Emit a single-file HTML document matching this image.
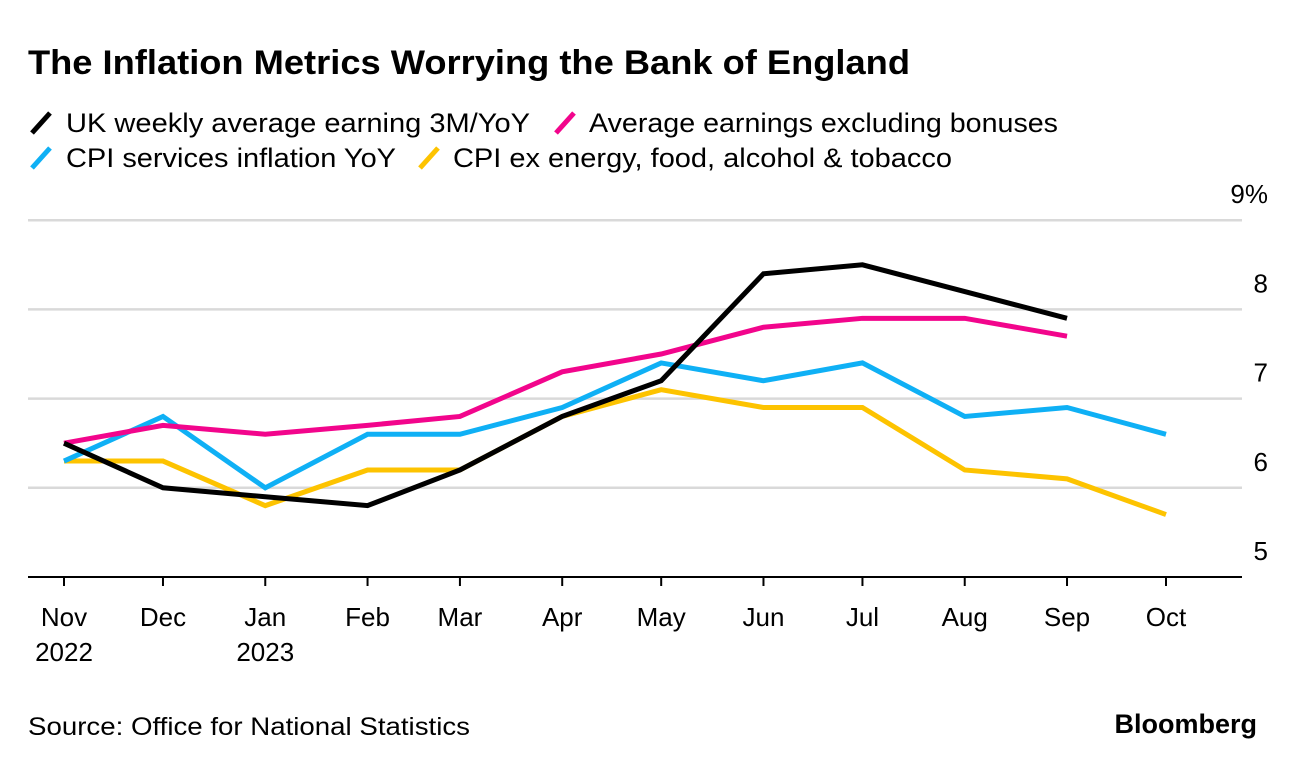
<!DOCTYPE html>
<html><head><meta charset="utf-8"><style>
body{margin:0;background:#fff;font-family:"Liberation Sans",sans-serif;}
svg text{font-family:"Liberation Sans",sans-serif;}
</style></head><body>
<svg id="chart" width="1296" height="768">
<text x="28" y="74" font-size="34" font-weight="bold" fill="#000" textLength="882" lengthAdjust="spacingAndGlyphs">The Inflation Metrics Worrying the Bank of England</text>
<g>
<g><line x1="32" y1="133" x2="50" y2="113" stroke="#000" stroke-width="5"/><text x="66" y="132" font-size="27" textLength="464" lengthAdjust="spacingAndGlyphs">UK weekly average earning 3M/YoY</text></g>
<g><line x1="556" y1="133" x2="574" y2="113" stroke="#f2058c" stroke-width="5"/><text x="589" y="132" font-size="27" textLength="469" lengthAdjust="spacingAndGlyphs">Average earnings excluding bonuses</text></g>
<g><line x1="32" y1="168" x2="50" y2="148" stroke="#0fb0f5" stroke-width="5"/><text x="66" y="167" font-size="27" textLength="330" lengthAdjust="spacingAndGlyphs">CPI services inflation YoY</text></g>
<g><line x1="420" y1="168" x2="438" y2="148" stroke="#fdc300" stroke-width="5"/><text x="453" y="167" font-size="27" textLength="499" lengthAdjust="spacingAndGlyphs">CPI ex energy, food, alcohol &amp; tobacco</text></g>
</g>
<g id="grid"></g><g id="series"></g><g id="axis"></g>
<text x="28" y="735" font-size="25" textLength="442" lengthAdjust="spacingAndGlyphs">Source: Office for National Statistics</text>
<text x="1257" y="733" font-size="27" font-weight="bold" text-anchor="end">Bloomberg</text>
</svg>
<script>
const months=["Nov","Dec","Jan","Feb","Mar","Apr","May","Jun","Jul","Aug","Sep","Oct"];
const years=["2022","","2023","","","","","","","","",""];
const dayOffsets=[0,30,61,92,120,151,181,212,242,273,304,334];
const ukEarnings=[6.5,6.0,5.9,5.8,6.2,6.8,7.2,8.4,8.5,8.2,7.9];
const earningsExBonus=[6.5,6.7,6.6,6.7,6.8,7.3,7.5,7.8,7.9,7.9,7.7];
const cpiServices=[6.3,6.8,6.0,6.6,6.6,6.9,7.4,7.2,7.4,6.8,6.9,6.6];
const coreCpi=[6.3,6.3,5.8,6.2,6.2,6.8,7.1,6.9,6.9,6.2,6.1,5.7];
const yTicks=[5,6,7,8,9];
const NS="http://www.w3.org/2000/svg";
const x=d=>64+d*(1102/334);
const y=v=>577-(v-5)*89.2;
function mk(t,a,p){const e=document.createElementNS(NS,t);for(const k in a)e.setAttribute(k,a[k]);p.appendChild(e);return e;}
const grid=document.getElementById('grid'),axis=document.getElementById('axis'),ser=document.getElementById('series');
yTicks.forEach(v=>{
 if(v>5){const l=mk('line',{x1:28,x2:1242,y1:y(v),y2:y(v),stroke:'#d9d9d9','stroke-width':2.5},grid);
 
 }
 const t=mk('text',{x:1268,y:y(v)-17,'font-size':26,'text-anchor':'end'},axis);
 t.textContent=v+(v===9?'%':'');
 
 
});
const base=mk('line',{x1:28,x2:1242,y1:577,y2:577,stroke:'#000','stroke-width':2},axis);


months.forEach((m,i)=>{
 const xx=x(dayOffsets[i]);
 const tk=mk('line',{x1:xx,x2:xx,y1:577,y2:586,stroke:'#000','stroke-width':2},axis);
 
 
 const t=mk('text',{x:xx,y:626,'font-size':26,'text-anchor':'middle'},axis);
 t.textContent=m;
 
 
 if(years[i]){const ty=mk('text',{x:xx,y:661,'font-size':26,'text-anchor':'middle'},axis);
 ty.textContent=years[i];
 
 }
});
[[coreCpi,'#fdc300','line-core-cpi'],[cpiServices,'#0fb0f5','line-cpi-services'],[earningsExBonus,'#f2058c','line-earnings-ex-bonus'],[ukEarnings,'#000','line-uk-earnings']].forEach(([vals,c,n])=>{
 const pts=vals.map((v,i)=>x(dayOffsets[i])+','+y(v)).join(' ');
 const p=mk('polyline',{points:pts,fill:'none',stroke:c,'stroke-width':5,'stroke-linejoin':'miter'},ser);
 
 
});
</script>
</body></html>
